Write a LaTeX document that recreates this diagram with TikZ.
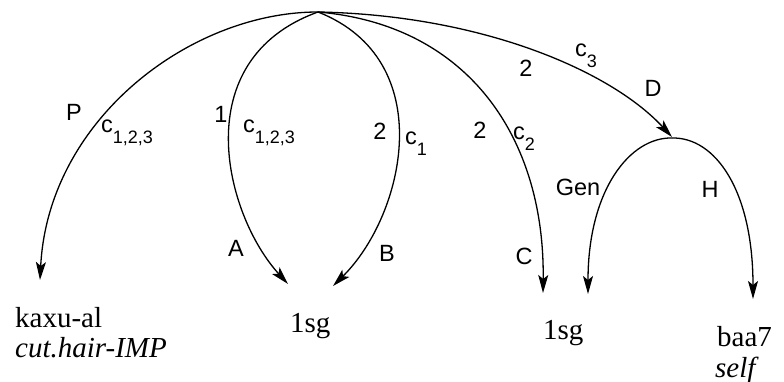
\documentclass[tikz,border=0pt]{standalone}
\usepackage{fontspec}
\setmainfont{Liberation Serif}
\setsansfont{Liberation Sans}
\usetikzlibrary{arrows.meta}
\newcommand\lsub[1]{\raisebox{-11pt}{\fontsize{18}{18}\selectfont #1}}
\begin{document}
\begin{tikzpicture}[x=1pt,y=-1pt,
  edge/.style={line width=1.3pt,-{Stealth[length=18pt,width=10pt,inset=4pt]}},
  lab/.style={inner sep=0pt,font=\sffamily\fontsize{23.5}{25}\selectfont},
  word/.style={inner sep=0pt,anchor=base west,font=\fontsize{29}{31}\selectfont},
  gloss/.style={inner sep=0pt,anchor=base west,font=\itshape\fontsize{29}{31}\selectfont}]
\useasboundingbox (0,0) rectangle (784,382);
% nodes
\coordinate (T) at (318,12);
\coordinate (Dtop) at (672,138);
\node[word] (kaxu) at (15,327) {kaxu-al};
\node[gloss] (kaxug) at (15,357) {cut.hair-IMP};
\node[word] (sgA) at (290,332) {1sg};
\node[word] (sgB) at (543,339) {1sg};
\node[word] (baa) at (717,346) {baa7};
\node[gloss] (baag) at (715,377) {self};
% arrow tips
\coordinate (tipP) at (40,280);
\coordinate (tipA) at (288,284);
\coordinate (tipB) at (333,286);
\coordinate (tipC) at (543,293);
\coordinate (tipD) at (672,137);
\coordinate (tipG) at (588,294);
\coordinate (tipH) at (753,299);
% connectors
\draw[edge] (T) .. controls (190,12) and (48,120) .. (tipP);
\draw[edge] (T) .. controls (185,60) and (225,215) .. (tipA);
\draw[edge] (T) .. controls (440,60) and (405,215) .. (tipB);
\draw[edge] (T) .. controls (470,25) and (545,140) .. (tipC);
\draw[edge] (T) .. controls (480,15) and (610,70) .. (tipD);
\draw[edge] (Dtop) .. controls (630,137) and (588,190) .. (tipG);
\draw[edge] (Dtop) .. controls (715,137) and (753,190) .. (tipH);
% labels
\node[lab] (lP) at (74,112) {P};
\node[lab,anchor=base west] (lc1) at (101,133) {c\lsub{1,2,3}};
\node[lab] (l1) at (221,114) {1};
\node[lab,anchor=base west] (lc2) at (243,133) {c\lsub{1,2,3}};
\node[lab] (l2a) at (380,131) {2};
\node[lab,anchor=base west] (lc3) at (405,145) {c\lsub{1}};
\node[lab] (l2b) at (480,130) {2};
\node[lab,anchor=base west] (lc4) at (513,140) {c\lsub{2}};
\node[lab] (l2c) at (526,68) {2};
\node[lab,anchor=base west] (lc5) at (575,57) {c\lsub{3}};
\node[lab] (lD) at (653,88) {D};
\node[lab] (lGen) at (578,187) {Gen};
\node[lab] (lH) at (710,189) {H};
\node[lab] (lA) at (236,248) {A};
\node[lab] (lB) at (387,253) {B};
\node[lab] (lC) at (524,256) {C};
\end{tikzpicture}
\end{document}
